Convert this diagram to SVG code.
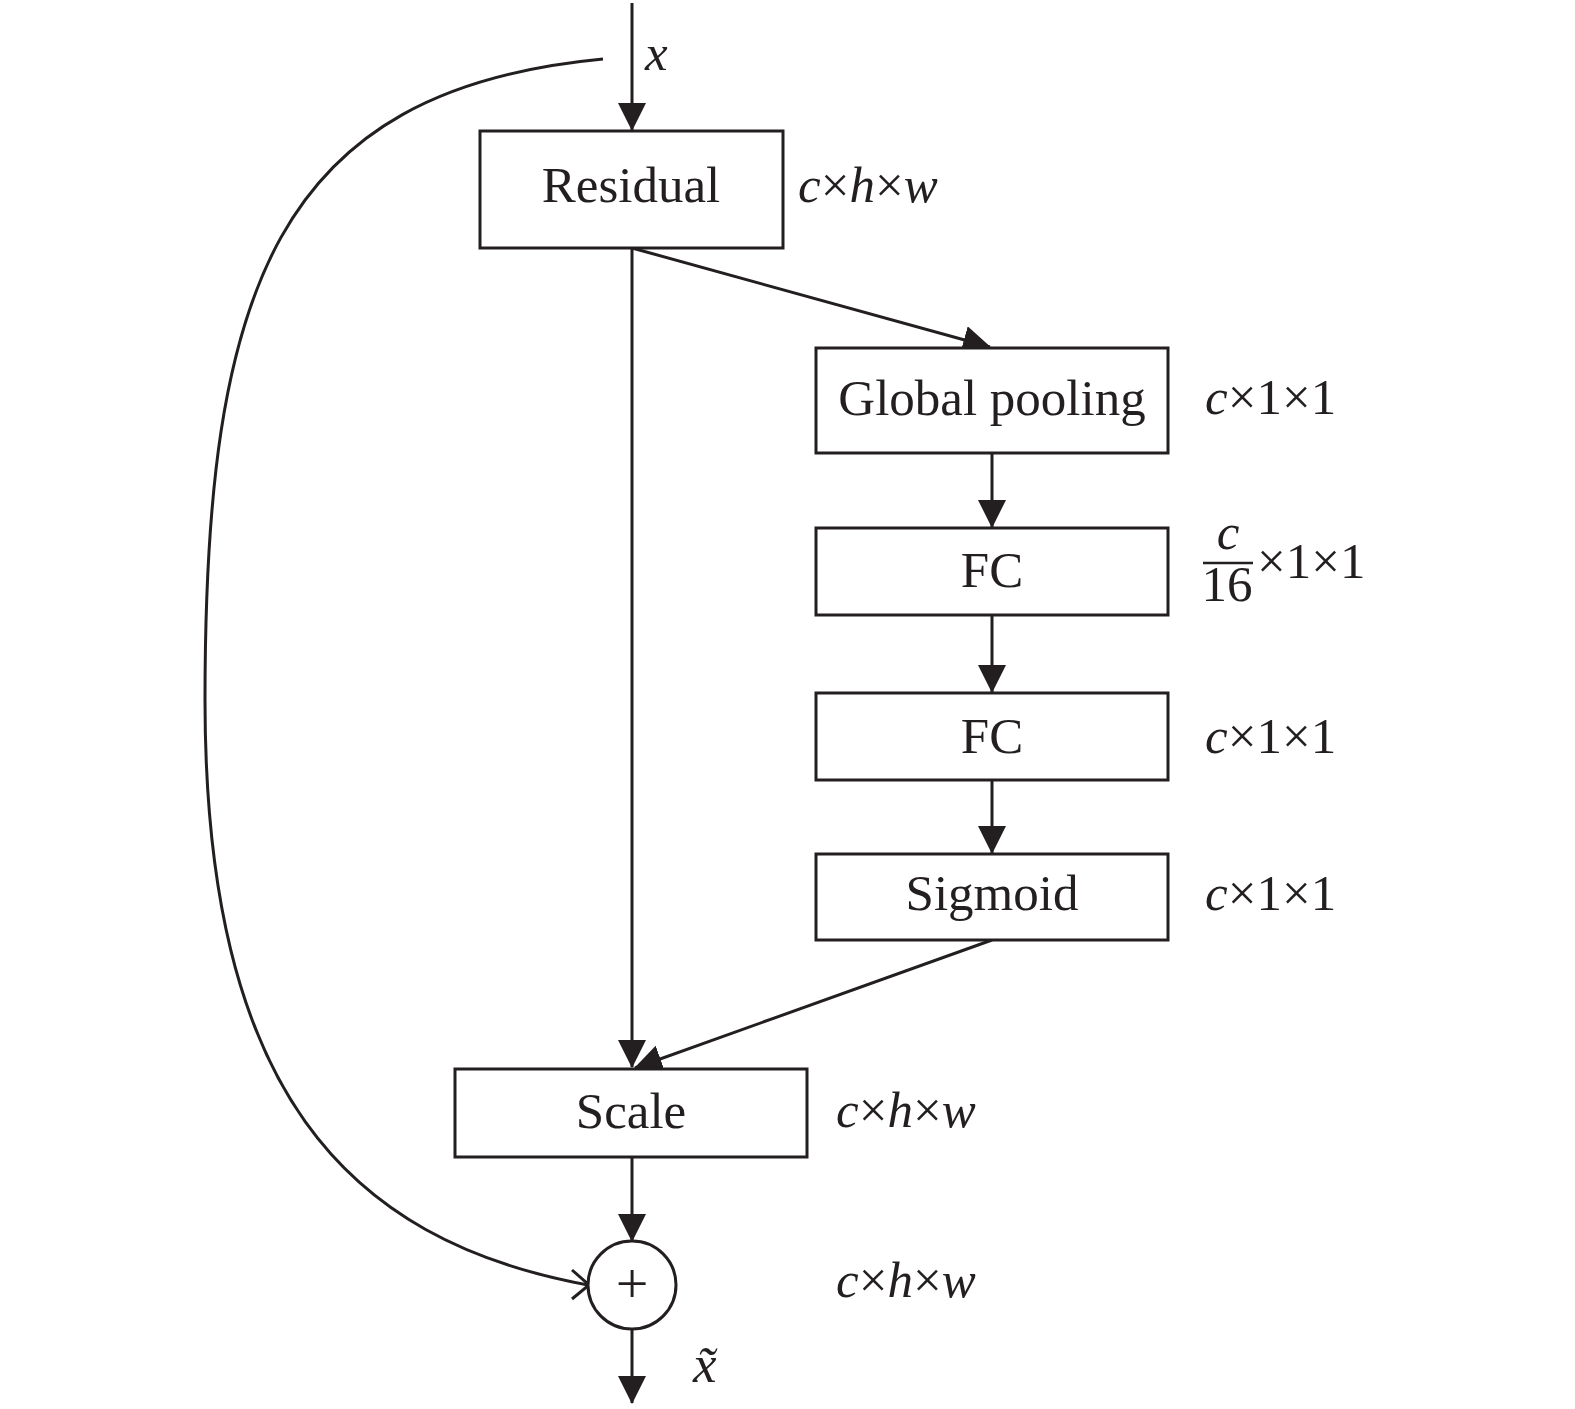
<svg xmlns="http://www.w3.org/2000/svg" width="1575" height="1409" viewBox="0 0 1575 1409">
<style>
.box{fill:#fff;stroke:#231f20;stroke-width:3}
.ln{fill:none;stroke:#231f20;stroke-width:3}
.t{font-family:"Liberation Serif","Times New Roman",serif;font-size:51px;fill:#231f20}
.m{text-anchor:middle}
.i{font-style:italic}
</style>
<defs>
<marker id="ah" markerUnits="userSpaceOnUse" viewBox="0 0 28 28" markerWidth="28" markerHeight="28" refX="27" refY="14" orient="auto">
<path d="M0,0 L28,14 L0,28 z" fill="#231f20"/>
</marker>
</defs>
<g id="connectors">
<line class="ln" x1="632" y1="3" x2="632" y2="130" marker-end="url(#ah)"/>
<line class="ln" x1="632" y1="248" x2="632" y2="1067" marker-end="url(#ah)"/>
<line class="ln" x1="632" y1="248" x2="990" y2="347" marker-end="url(#ah)"/>
<line class="ln" x1="992" y1="453" x2="992" y2="527" marker-end="url(#ah)"/>
<line class="ln" x1="992" y1="615" x2="992" y2="692" marker-end="url(#ah)"/>
<line class="ln" x1="992" y1="780" x2="992" y2="853" marker-end="url(#ah)"/>
<line class="ln" x1="992" y1="940" x2="635" y2="1068" marker-end="url(#ah)"/>
<line class="ln" x1="632" y1="1157" x2="632" y2="1241" marker-end="url(#ah)"/>
<line class="ln" x1="632" y1="1329" x2="632" y2="1403" marker-end="url(#ah)"/>
<path class="ln" d="M603,59 C275,90 205,290 205,700 C205,1090 345,1240 588,1285"/>
<path class="ln" d="M572,1270 L589,1285 L572,1299"/>
</g>
<g id="input-label">
<text class="t i" x="645" y="70">x</text>
</g>
<g id="residual">
<rect class="box" x="480" y="131" width="303" height="117"/>
<text class="t m" x="631" y="202">Residual</text>
<text class="t" x="798" y="202"><tspan class="i">c</tspan>×<tspan class="i">h</tspan>×<tspan class="i">w</tspan></text>
</g>
<g id="global-pooling">
<rect class="box" x="816" y="348" width="352" height="105"/>
<text class="t m" x="992" y="415">Global pooling</text>
<text class="t" x="1205" y="414"><tspan class="i">c</tspan>×1×1</text>
</g>
<g id="fc1">
<rect class="box" x="816" y="528" width="352" height="87"/>
<text class="t m" x="992" y="587">FC</text>
<text class="t m"><tspan class="i" x="1228" y="549">c</tspan><tspan x="1227" y="601">16</tspan></text>
<line x1="1203" y1="563" x2="1253" y2="563" stroke="#231f20" stroke-width="2.5"/>
<text class="t" x="1257" y="578">×1×1</text>
</g>
<g id="fc2">
<rect class="box" x="816" y="693" width="352" height="87"/>
<text class="t m" x="992" y="753">FC</text>
<text class="t" x="1205" y="753"><tspan class="i">c</tspan>×1×1</text>
</g>
<g id="sigmoid">
<rect class="box" x="816" y="854" width="352" height="86"/>
<text class="t m" x="992" y="910">Sigmoid</text>
<text class="t" x="1205" y="910"><tspan class="i">c</tspan>×1×1</text>
</g>
<g id="scale">
<rect class="box" x="455" y="1069" width="352" height="88"/>
<text class="t m" x="631" y="1128">Scale</text>
<text class="t" x="836" y="1127"><tspan class="i">c</tspan>×<tspan class="i">h</tspan>×<tspan class="i">w</tspan></text>
</g>
<g id="sum">
<circle cx="632" cy="1285" r="44" fill="#fff" stroke="#231f20" stroke-width="3"/>
<text class="t m" x="632" y="1303" style="font-size:58px">+</text>
<text class="t" x="836" y="1297"><tspan class="i">c</tspan>×<tspan class="i">h</tspan>×<tspan class="i">w</tspan></text>
</g>
<g id="output-label">
<text class="t i" x="693" y="1382" style="font-size:53px">x̃</text>
</g>
</svg>
